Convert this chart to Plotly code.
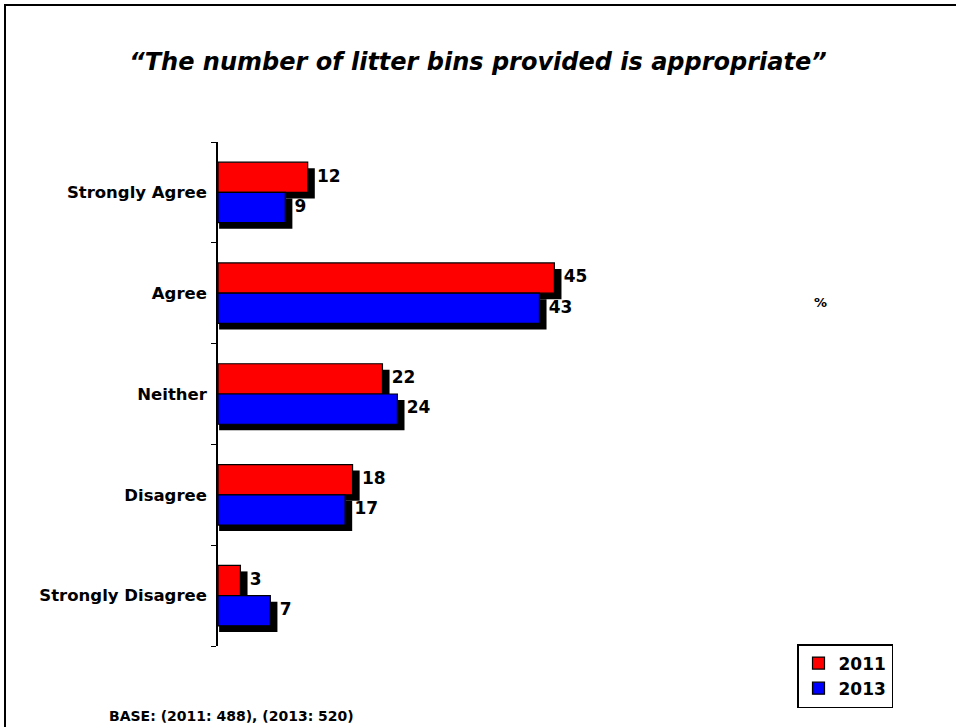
import plotly.graph_objects as go

categories = ["Strongly Agree", "Agree", "Neither", "Disagree", "Strongly Disagree"]
values_2011 = [12, 45, 22, 18, 3]
values_2013 = [9, 43, 24, 17, 7]
series_names = ["2011", "2013"]
title_text = "\u201cThe number of litter bins provided is appropriate\u201d"
base_text = "BASE: (2011: 488), (2013: 520)"

FONT = "Verdana, DejaVu Sans, sans-serif"
positions = list(range(len(categories) - 1, -1, -1))  # top category highest

BAR_H = 0.3
SH_X = 0.8    # shadow offset in x data units (~6px)
SH_Y = 0.06   # shadow offset in y units (~6px)

fig = go.Figure()

# shadows
for vals, off in [(values_2011, 0.0), (values_2013, -BAR_H)]:
    fig.add_trace(go.Bar(
        x=[v + SH_X for v in vals], y=positions, orientation="h",
        base=0.15, width=BAR_H, offset=off - SH_Y,
        marker=dict(color="black", line=dict(width=0)),
        showlegend=False, hoverinfo="skip"))

# bars
for name, vals, color, off in [(series_names[0], values_2011, "#FF0000", 0.0),
                               (series_names[1], values_2013, "#0000FF", -BAR_H)]:
    fig.add_trace(go.Bar(
        name=name, x=vals, y=positions, orientation="h",
        width=BAR_H, offset=off,
        marker=dict(color=color, line=dict(color="black", width=1.2)),
        showlegend=True))

# value labels
for vals, dy in [(values_2011, BAR_H / 2), (values_2013, -BAR_H / 2)]:
    fig.add_trace(go.Scatter(
        x=[v + SH_X + 0.45 for v in vals], y=[p + dy for p in positions],
        mode="text", text=[str(v) for v in vals], textposition="middle right",
        textfont=dict(family=FONT, size=17, color="black", weight="bold"),
        showlegend=False, hoverinfo="skip"))

W, H = 956, 727
L, T, B = 218, 142, 81
PW = 598
R = W - L - PW

fig.update_layout(
    width=W, height=H,
    margin=dict(l=L, r=R, t=T, b=B),
    paper_bgcolor="white", plot_bgcolor="white",
    barmode="overlay",
    showlegend=True,
    title=dict(text="<b><i>" + title_text + "</i></b>", xref="container", yref="container",
               x=478 / W, xanchor="center",
               y=1 - 62 / H, yanchor="middle",
               font=dict(family=FONT, size=24, color="black")),
    xaxis=dict(range=[0, 80], visible=False, showgrid=False, zeroline=False),
    yaxis=dict(range=[-0.5, 4.5], tickvals=positions, ticktext=categories,
               ticks="", showgrid=False, zeroline=False,
               showline=True, linecolor="black", linewidth=1.5,
               ticklabelstandoff=6,
               tickfont=dict(family=FONT, size=16.5, color="black", weight="bold"),
               minor=dict(tickvals=[-0.5, 0.5, 1.5, 2.5, 3.5, 4.5], ticks="outside",
                          ticklen=5, tickcolor="black", tickwidth=1.2)),
    legend=dict(x=(797 - L) / PW, y=(646 - 644) / 504, xanchor="left", yanchor="top",
                bgcolor="white", bordercolor="black", borderwidth=1.5,
                font=dict(family=FONT, size=17, color="black", weight="bold"),
                itemwidth=30, traceorder="normal"),
    annotations=[
        dict(text="<b>%</b>", xref="paper", yref="paper",
             x=(820 - L) / PW, y=(646 - 302) / 504, showarrow=False,
             xanchor="center", yanchor="middle",
             font=dict(family=FONT, size=13, color="black")),
        dict(text="<b>" + base_text + "</b>", xref="paper", yref="paper",
             x=(107 - L) / PW, y=(646 - 716) / 504, showarrow=False,
             xanchor="left", yanchor="middle",
             font=dict(family=FONT, size=14, color="black")),
    ],
    shapes=[
        dict(type="rect", xref="paper", yref="paper",
             x0=(5 - L) / PW, x1=(W + 20 - L) / PW,
             y0=(646 - (H + 20)) / 504, y1=(646 - 5) / 504,
             line=dict(color="black", width=2), layer="below"),
    ],
)

fig.write_html("out.html", config={"displayModeBar": False},
               post_script="document.body.style.margin='0px';")
